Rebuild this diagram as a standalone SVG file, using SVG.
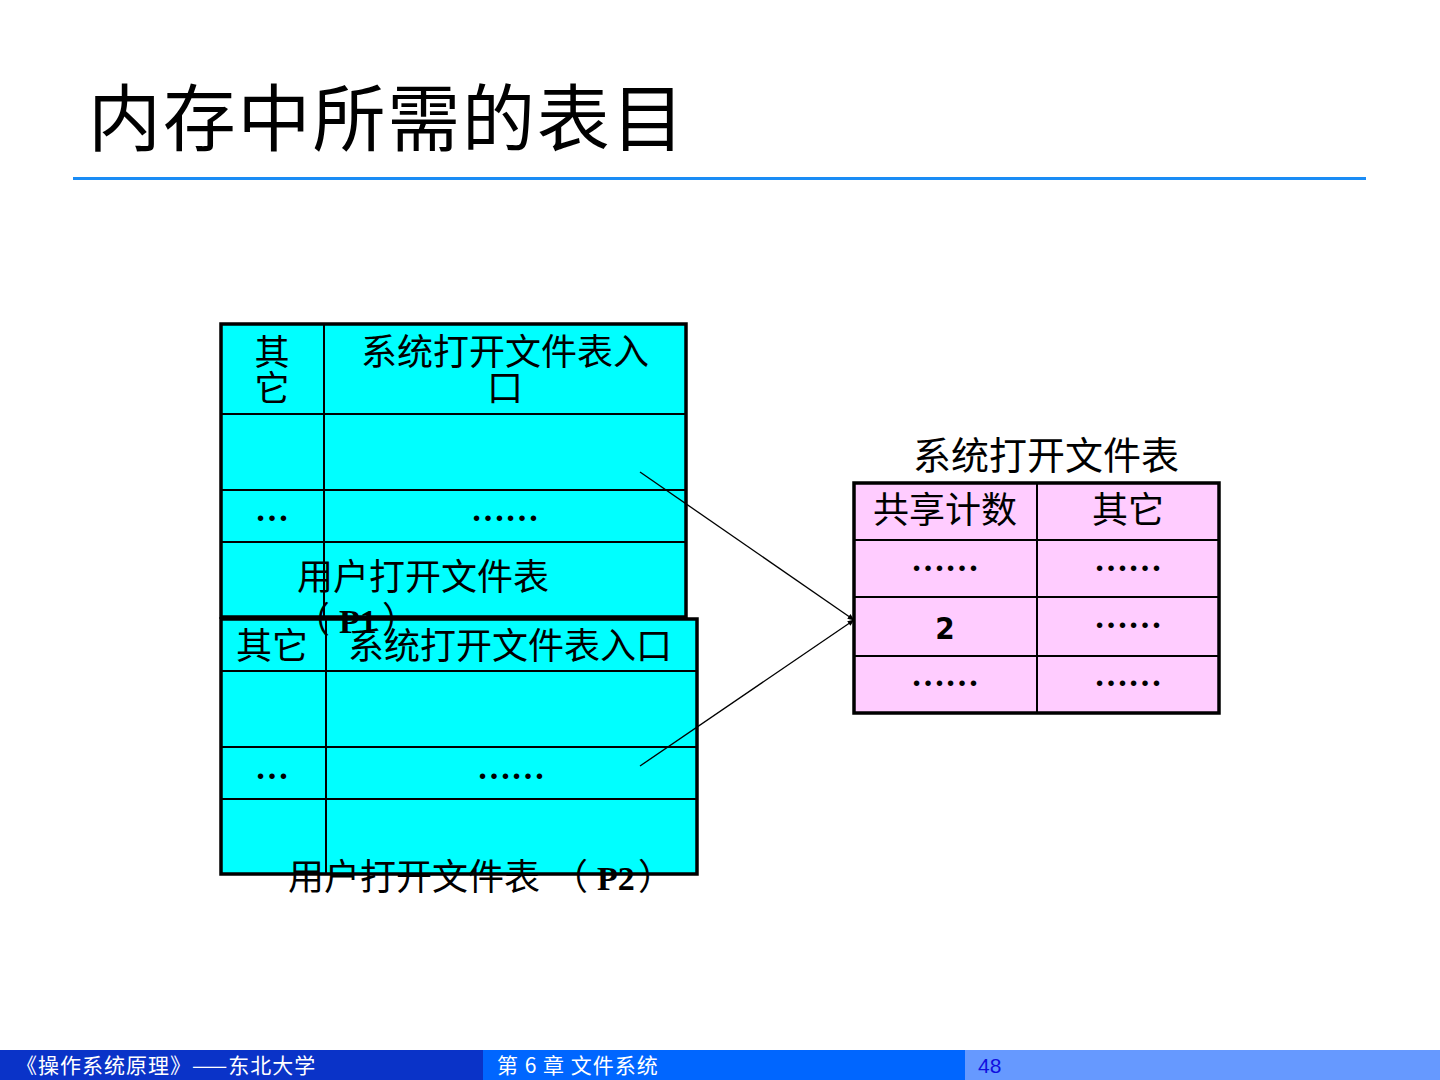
<svg xmlns="http://www.w3.org/2000/svg" width="1440" height="1080" viewBox="0 0 1440 1080">
<style>
.cjk{font-family:"Noto Sans CJK SC","Liberation Sans",sans-serif;fill:#000}
.dots{font-family:"Liberation Serif",serif;font-weight:bold;fill:#000}
.cell{stroke:#000;stroke-width:2;fill:none}
.outer{stroke:#000;stroke-width:3.5}
.foot{font-family:"Noto Sans CJK SC",sans-serif;font-size:21px;fill:#fff}
</style>
<defs>
<marker id="ah" viewBox="0 0 10 10" refX="9" refY="5" markerWidth="7" markerHeight="7" orient="auto" markerUnits="userSpaceOnUse">
<path d="M0,1 L10,5 L0,9 Z" fill="#000"/>
</marker>
</defs>
<rect width="1440" height="1080" fill="#fff"/>
<g id="title">
<text x="88" y="145" class="cjk" font-size="73" letter-spacing="1.8">内存中所需的表目</text>
<line x1="73" y1="178.5" x2="1366" y2="178.5" stroke="#1a8cf5" stroke-width="3"/>
</g>

<g id="p1-table">
<rect x="221" y="324" width="465" height="293" fill="#00ffff" class="outer"/>
<line x1="324" y1="324" x2="324" y2="617" class="cell"/>
<line x1="221" y1="414" x2="686" y2="414" class="cell"/>
<line x1="221" y1="490" x2="686" y2="490" class="cell"/>
<line x1="221" y1="542" x2="686" y2="542" class="cell"/>
<text x="272" y="365" class="cjk" font-size="35" text-anchor="middle">其</text>
<text x="272" y="401" class="cjk" font-size="35" text-anchor="middle">它</text>
<text x="505" y="365" class="cjk" font-size="36" text-anchor="middle">系统打开文件表入</text>
<text x="505" y="401" class="cjk" font-size="36" text-anchor="middle">口</text>
<text x="272" y="521" class="dots" font-size="34" text-anchor="middle">…</text>
<text x="505" y="521" class="dots" font-size="34" text-anchor="middle">……</text>
<text x="423" y="590" class="cjk" font-size="36" text-anchor="middle">用户打开文件表</text>
</g>

<g id="p2-table">
<rect x="221" y="619" width="476" height="255" fill="#00ffff" class="outer"/>
<line x1="326" y1="619" x2="326" y2="874" class="cell"/>
<line x1="221" y1="671" x2="697" y2="671" class="cell"/>
<line x1="221" y1="747" x2="697" y2="747" class="cell"/>
<line x1="221" y1="799" x2="697" y2="799" class="cell"/>
<text x="272" y="659" class="cjk" font-size="36" text-anchor="middle">其它</text>
<text x="510" y="659" class="cjk" font-size="36" text-anchor="middle">系统打开文件表入口</text>
<text x="272" y="779" class="dots" font-size="34" text-anchor="middle">…</text>
<text x="511" y="779" class="dots" font-size="34" text-anchor="middle">……</text>
<text x="288" y="890" class="cjk" font-size="36">用户打开文件表</text>
<text x="552" y="890" class="cjk" font-size="36">（</text>
<text x="597" y="890" class="dots" font-size="34">P2</text>
<text x="638" y="890" class="cjk" font-size="36">）</text>
</g>

<g id="p1-label">
<text x="294" y="633" class="cjk" font-size="36">（</text>
<text x="339" y="633" class="dots" font-size="34">P1</text>
<text x="382" y="633" class="cjk" font-size="36">）</text>
</g>

<g id="sys-table">
<text x="1046" y="469" class="cjk" font-size="38" text-anchor="middle">系统打开文件表</text>
<rect x="854" y="483" width="365" height="230" fill="#ffccff" class="outer"/>
<line x1="1037" y1="483" x2="1037" y2="713" class="cell"/>
<line x1="854" y1="540" x2="1219" y2="540" class="cell"/>
<line x1="854" y1="597" x2="1219" y2="597" class="cell"/>
<line x1="854" y1="656" x2="1219" y2="656" class="cell"/>
<text x="945" y="523" class="cjk" font-size="36" text-anchor="middle">共享计数</text>
<text x="1128" y="523" class="cjk" font-size="36" text-anchor="middle">其它</text>
<text x="945" y="571" class="dots" font-size="34" text-anchor="middle">……</text>
<text x="1128" y="571" class="dots" font-size="34" text-anchor="middle">……</text>
<text x="945" y="639" font-family="'Liberation Sans Narrow','DejaVu Sans Condensed',sans-serif" font-weight="bold" font-size="31" text-anchor="middle">2</text>
<text x="1128" y="628" class="dots" font-size="34" text-anchor="middle">……</text>
<text x="945" y="686" class="dots" font-size="34" text-anchor="middle">……</text>
<text x="1128" y="686" class="dots" font-size="34" text-anchor="middle">……</text>
</g>

<g id="connectors" stroke="#000" stroke-width="1.3" fill="none">
<line x1="640" y1="472" x2="854" y2="620" marker-end="url(#ah)"/>
<line x1="640" y1="766" x2="854" y2="620" marker-end="url(#ah)"/>
</g>

<g id="footer">
<rect x="0" y="1050" width="483" height="30" fill="#0a33c8"/>
<rect x="483" y="1050" width="482" height="30" fill="#0066ff"/>
<rect x="965" y="1050" width="475" height="30" fill="#6699ff"/>
<text x="16" y="1073" class="foot" letter-spacing="1">《操作系统原理》——东北大学</text>
<text x="497" y="1073" class="foot" letter-spacing="1">第 6 章  文件系统</text>
<text x="978" y="1073" font-family="'Liberation Sans',sans-serif" font-size="21" fill="#1010e0">48</text>
</g>
</svg>
